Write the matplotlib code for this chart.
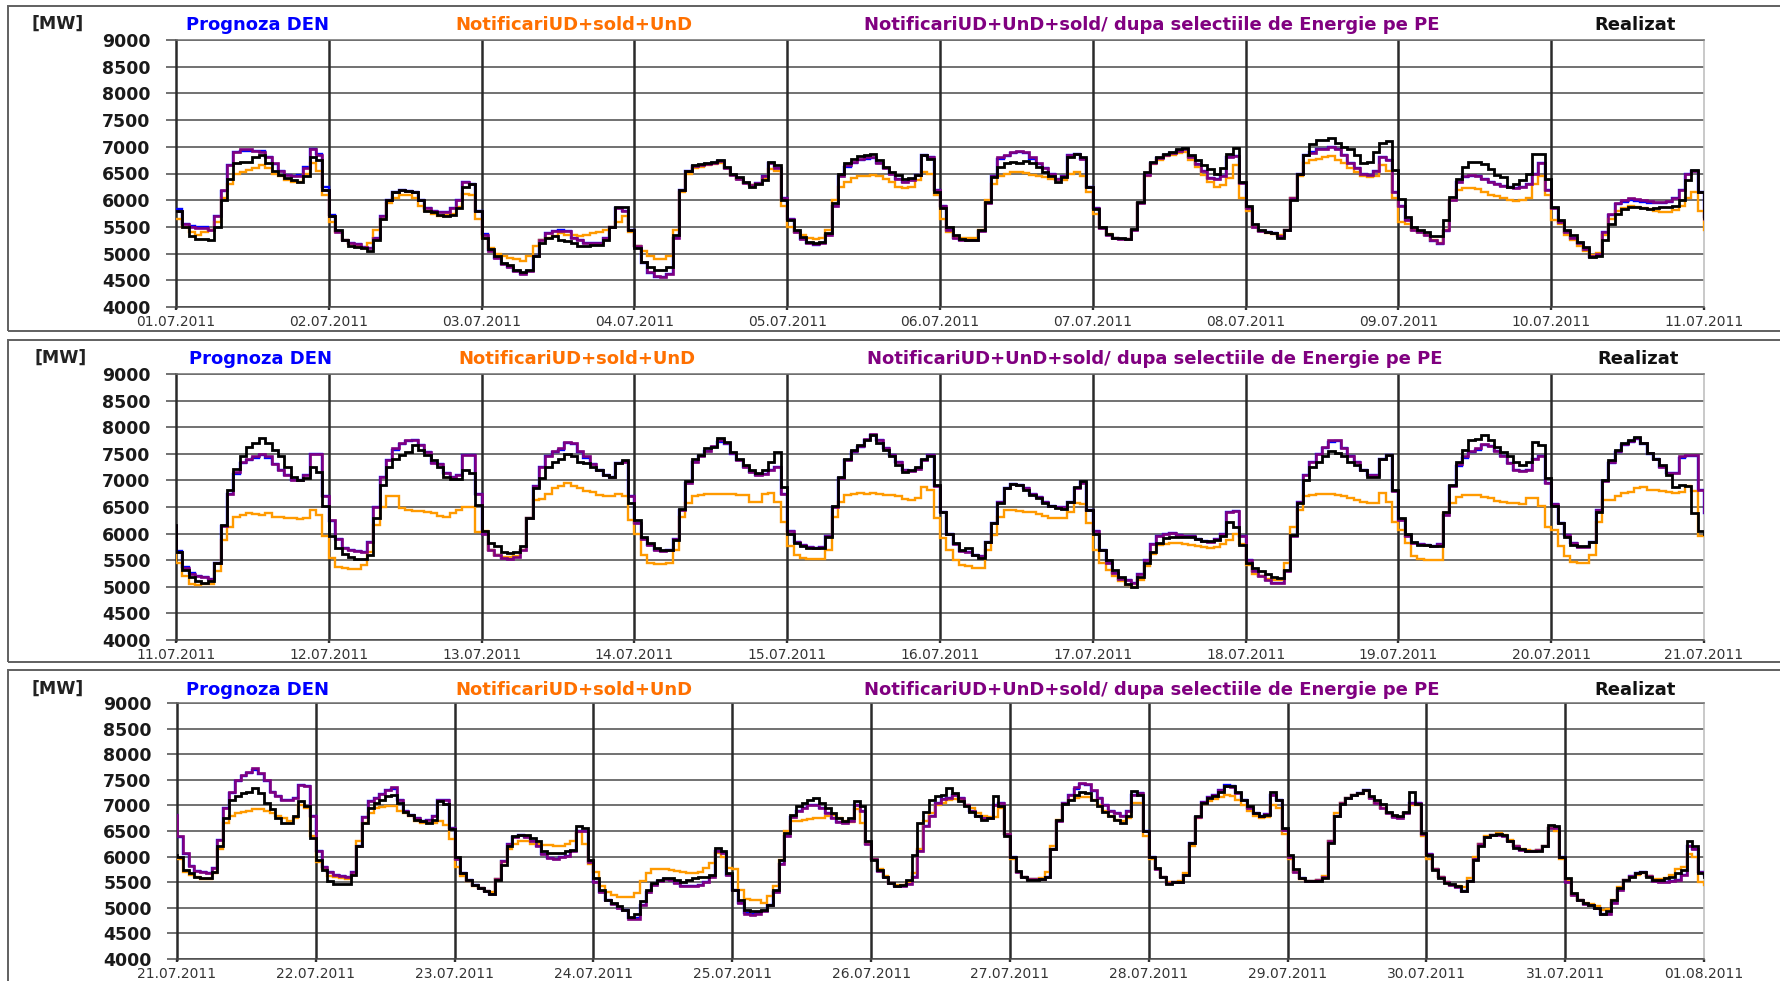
import matplotlib
matplotlib.use('Agg')
import matplotlib.pyplot as plt
from matplotlib.patches import Rectangle
import numpy as np

plt.rcParams['font.family'] = ['DejaVu Sans']

# ---------------- data (hourly values, MW) ----------------
dates_p1 = ['01.07.2011', '02.07.2011', '03.07.2011', '04.07.2011', '05.07.2011', '06.07.2011',
            '07.07.2011', '08.07.2011', '09.07.2011', '10.07.2011', '11.07.2011']
dates_p2 = ['11.07.2011', '12.07.2011', '13.07.2011', '14.07.2011', '15.07.2011', '16.07.2011',
            '17.07.2011', '18.07.2011', '19.07.2011', '20.07.2011', '21.07.2011']
dates_p3 = ['21.07.2011', '22.07.2011', '23.07.2011', '24.07.2011', '25.07.2011', '26.07.2011',
            '27.07.2011', '28.07.2011', '29.07.2011', '30.07.2011', '31.07.2011', '01.08.2011']

legend_labels = ['Prognoza DEN', 'NotificariUD+sold+UnD',
                 'NotificariUD+UnD+sold/ dupa selectiile de Energie pe PE', 'Realizat']

# Realizat (black)
realizat_p1 = [
    [5800,5500,5330,5280,5280,5260,5500,6000,6400,6700,6720,6720,6800,6850,6700,6550,6480,6420,6380,6350,6450,6800,6750,6200],
    [5700,5450,5250,5150,5130,5100,5050,5250,5650,6000,6150,6200,6180,6150,6000,5800,5780,5720,5700,5720,5850,6250,6300,5800],
    [5300,5080,4950,4820,4780,4700,4650,4700,4950,5200,5300,5330,5250,5230,5200,5150,5150,5170,5170,5250,5500,5870,5870,5450],
    [5100,4850,4750,4700,4700,4750,5350,6200,6550,6650,6680,6700,6720,6750,6620,6500,6430,6350,6250,6300,6380,6720,6650,6000],
    [5620,5440,5310,5220,5190,5220,5380,5940,6500,6690,6780,6830,6840,6860,6750,6620,6530,6470,6400,6420,6480,6840,6780,6160],
    [5860,5500,5340,5280,5250,5250,5440,5970,6440,6620,6690,6720,6690,6730,6690,6630,6530,6450,6350,6430,6810,6870,6800,6250],
    [5830,5500,5370,5300,5290,5280,5470,5970,6530,6720,6810,6870,6900,6950,6970,6850,6750,6650,6580,6500,6600,6870,6970,6350],
    [5900,5560,5440,5400,5380,5300,5440,6000,6500,6850,7050,7120,7130,7170,7080,7000,6950,6850,6700,6720,6900,7080,7100,6560],
    [6030,5690,5500,5440,5400,5330,5330,5620,6060,6400,6620,6720,6720,6680,6580,6480,6440,6250,6310,6375,6500,6860,6860,6400],
    [5880,5620,5440,5340,5220,5120,4940,4950,5250,5560,5750,5840,5870,5880,5850,5840,5850,5870,5880,5900,6000,6380,6560,6160],
]
realizat_p2 = [
    [5660,5320,5190,5100,5080,5100,5440,6160,6820,7210,7450,7630,7700,7790,7700,7570,7450,7260,7070,7010,7050,7260,7160,6510],
    [5950,5720,5620,5560,5530,5520,5600,6290,6910,7260,7410,7480,7540,7670,7570,7480,7380,7260,7070,7020,7020,7200,7130,6540],
    [6040,5820,5760,5650,5630,5660,5760,6290,6850,7040,7260,7350,7410,7500,7450,7350,7320,7250,7200,7100,7070,7320,7380,6570],
    [6250,5940,5820,5720,5700,5690,5880,6470,6980,7410,7480,7600,7630,7790,7730,7540,7410,7290,7200,7130,7200,7350,7540,6880],
    [6000,5820,5760,5730,5720,5730,5940,6510,7070,7410,7570,7670,7760,7850,7700,7570,7450,7290,7160,7200,7260,7410,7460,6910],
    [6410,6000,5820,5690,5720,5600,5540,5850,6190,6570,6850,6930,6910,6820,6730,6660,6570,6510,6480,6470,6600,6880,6980,6440],
    [6000,5690,5500,5320,5190,5060,5000,5190,5440,5660,5820,5910,5940,5940,5930,5940,5900,5860,5860,5880,5950,6220,6130,5790],
    [5440,5350,5290,5250,5190,5160,5320,5970,6570,7010,7260,7350,7450,7560,7510,7450,7350,7290,7200,7070,7070,7410,7480,6820],
    [6290,6000,5850,5790,5790,5770,5770,6410,6910,7350,7570,7760,7780,7850,7760,7630,7540,7450,7350,7290,7350,7730,7670,7040],
    [6510,6190,5940,5790,5760,5760,5850,6410,7010,7380,7570,7700,7760,7820,7700,7510,7410,7290,7100,6880,6910,6900,6380,6040],
]
realizat_p3 = [
    [6000,5740,5680,5610,5580,5580,5700,6200,6750,7110,7180,7240,7270,7340,7240,7050,6920,6750,6650,6650,6790,7080,6980,6360],
    [5940,5740,5520,5470,5470,5470,5650,6200,6650,6950,7050,7110,7180,7210,7050,6880,6820,6720,6690,6650,6720,7080,7020,6530],
    [6000,5680,5550,5450,5390,5320,5270,5550,5840,6200,6400,6430,6430,6360,6300,6100,6070,6070,6070,6100,6130,6590,6560,5940],
    [5580,5350,5160,5100,5030,4960,4830,4870,5130,5350,5480,5550,5580,5580,5550,5500,5550,5580,5600,5600,5650,6170,6100,5680],
    [5350,5160,4960,4930,4930,4960,5060,5350,5940,6460,6820,6980,7050,7110,7150,7050,6950,6850,6750,6690,6750,7080,6980,6300],
    [5940,5740,5610,5480,5420,5450,5550,6040,6650,6880,7110,7180,7210,7340,7240,7080,6980,6880,6790,6720,6750,7180,6980,6400],
    [6000,5710,5610,5550,5550,5560,5600,6140,6720,7020,7110,7210,7270,7250,7110,6980,6880,6790,6720,6650,6800,7280,7200,6500],
    [6000,5780,5610,5470,5500,5500,5650,6260,6790,7050,7150,7180,7270,7370,7380,7270,7110,6980,6850,6790,6820,7270,7110,6560],
    [6040,5750,5580,5520,5520,5530,5580,6260,6790,7020,7150,7210,7240,7310,7180,7110,7020,6880,6820,6790,6880,7270,7020,6460],
    [6040,5740,5580,5490,5470,5420,5320,5520,5940,6200,6390,6430,6450,6430,6300,6170,6140,6100,6100,6100,6200,6620,6590,6000],
    [5580,5290,5160,5090,5060,5000,4870,4930,5160,5390,5550,5610,5680,5690,5610,5550,5550,5580,5610,5680,5740,6300,6200,5680],
]

# Prognoza DEN (blue)
prognoza_p1 = [
    [5830,5560,5520,5500,5490,5450,5700,6180,6650,6900,6930,6920,6920,6920,6800,6680,6550,6480,6460,6480,6620,6950,6870,6250],
    [5720,5420,5260,5200,5180,5120,5100,5300,5700,6000,6150,6200,6180,6150,6000,5850,5800,5780,5780,5850,6000,6350,6300,5800],
    [5370,5060,4920,4800,4750,4670,4610,4680,4950,5250,5380,5420,5440,5420,5300,5250,5200,5200,5200,5300,5500,5850,5800,5450],
    [5150,4830,4640,4570,4560,4610,5300,6200,6550,6640,6660,6680,6700,6730,6600,6480,6400,6320,6280,6330,6450,6700,6600,6050],
    [5650,5400,5270,5190,5170,5190,5350,5900,6450,6630,6700,6760,6780,6790,6700,6600,6500,6400,6350,6380,6480,6850,6800,6200],
    [5900,5450,5300,5260,5250,5260,5430,5950,6450,6780,6830,6880,6900,6880,6780,6680,6600,6500,6400,6450,6850,6870,6780,6250],
    [5850,5480,5350,5290,5280,5270,5440,5950,6480,6700,6790,6850,6880,6920,6950,6800,6680,6550,6420,6400,6450,6800,6820,6330],
    [5850,5500,5420,5400,5380,5330,5450,6050,6500,6850,6900,6960,6960,7000,6950,6850,6700,6600,6500,6480,6550,6800,6750,6150],
    [5900,5620,5450,5400,5350,5240,5180,5430,6000,6350,6440,6460,6450,6400,6350,6300,6260,6250,6220,6250,6300,6500,6700,6200],
    [5850,5600,5400,5300,5200,5070,4940,5000,5400,5730,5920,5960,6000,5980,5960,5950,5940,5940,5960,6040,6200,6500,6550,6150],
]
prognoza_p2 = [
    [5680,5370,5260,5200,5180,5150,5450,6150,6750,7120,7320,7380,7430,7480,7430,7300,7200,7100,7000,7000,7100,7500,7500,6700],
    [6230,5900,5720,5700,5680,5660,5850,6500,7070,7380,7580,7680,7740,7760,7670,7540,7320,7300,7130,7070,7100,7470,7470,6750],
    [6000,5700,5600,5550,5530,5560,5700,6300,6900,7250,7450,7530,7580,7700,7680,7540,7430,7300,7200,7100,7070,7320,7350,6700],
    [6200,5900,5780,5700,5680,5700,5900,6450,6950,7350,7450,7550,7630,7730,7680,7500,7380,7250,7150,7100,7120,7200,7250,6750],
    [6050,5840,5780,5740,5730,5740,5950,6500,7050,7380,7530,7630,7760,7860,7750,7600,7480,7350,7200,7180,7220,7380,7470,6900],
    [6400,6000,5800,5680,5650,5600,5580,5850,6200,6600,6850,6930,6920,6850,6750,6680,6600,6520,6500,6500,6600,6850,6970,6450],
    [6050,5700,5450,5260,5150,5120,5080,5250,5500,5800,5950,6000,6020,5980,5950,5950,5900,5860,5850,5900,6000,6400,6430,5950],
    [5500,5300,5200,5120,5080,5080,5300,5950,6600,7100,7350,7500,7600,7730,7740,7600,7450,7350,7200,7100,7100,7400,7480,6800],
    [6250,5950,5830,5800,5780,5770,5800,6350,6900,7280,7430,7530,7580,7660,7640,7560,7450,7320,7200,7170,7200,7400,7450,6950],
    [6550,6200,5980,5820,5750,5750,5850,6450,6980,7330,7530,7660,7720,7780,7690,7500,7400,7250,7130,7130,7430,7450,7450,6820],
]
prognoza_p3 = [
    [6380,6050,5810,5720,5700,5680,5780,6330,6950,7250,7480,7580,7640,7700,7620,7480,7270,7180,7110,7110,7150,7400,7380,6790],
    [6100,5800,5700,5650,5620,5600,5700,6200,6780,7080,7150,7220,7300,7330,7100,6900,6820,6750,6700,6720,6800,7100,7100,6550],
    [5950,5680,5550,5450,5380,5320,5270,5560,5920,6250,6380,6420,6380,6300,6200,6050,5980,5950,6000,6020,6100,6500,6500,5900],
    [5500,5300,5150,5080,5000,4950,4800,4800,5050,5300,5450,5530,5560,5540,5480,5420,5420,5430,5450,5500,5600,6100,6080,5650],
    [5350,5100,4900,4870,4890,4930,5050,5300,5850,6400,6780,6900,6950,7000,7000,6950,6850,6750,6680,6650,6700,7000,6900,6250],
    [5950,5720,5600,5480,5420,5420,5460,5600,6100,6600,6800,7050,7120,7150,7200,7150,7000,6900,6800,6750,6750,7000,7050,6450],
    [6000,5700,5600,5560,5560,5560,5600,6150,6700,7050,7200,7330,7420,7400,7280,7150,7000,6900,6850,6800,6900,7200,7250,6500],
    [6000,5750,5600,5480,5500,5500,5650,6260,6780,7070,7160,7200,7300,7400,7380,7250,7100,6950,6850,6800,6830,7200,7100,6520],
    [6000,5700,5580,5520,5520,5540,5600,6300,6800,7050,7150,7200,7250,7300,7150,7050,6950,6850,6780,6750,6850,7050,7050,6450],
    [6050,5750,5600,5500,5450,5400,5320,5520,5950,6250,6380,6420,6430,6400,6300,6200,6130,6100,6100,6120,6200,6550,6550,5990],
    [5500,5250,5150,5080,5050,5000,4880,4880,5100,5350,5550,5620,5680,5690,5620,5530,5500,5500,5520,5550,5650,6200,6150,5700],
]

# NotificariUD+sold+UnD (orange)
notificari_p1 = [
    [5650,5500,5400,5350,5400,5450,5600,6050,6300,6500,6530,6560,6600,6650,6600,6500,6450,6380,6350,6350,6500,6700,6550,6100],
    [5600,5400,5250,5180,5150,5100,5200,5450,5650,5950,6050,6100,6100,6050,5900,5800,5750,5700,5720,5750,5880,6120,6100,5650],
    [5300,5100,5000,4950,4920,4900,4870,4950,5150,5250,5300,5330,5380,5350,5350,5330,5350,5380,5400,5450,5500,5600,5700,5400],
    [5150,5050,4950,4900,4900,4950,5450,6150,6500,6600,6630,6650,6680,6700,6600,6480,6400,6320,6280,6300,6400,6580,6550,5900],
    [5500,5400,5350,5300,5280,5300,5450,6000,6250,6350,6420,6450,6460,6480,6450,6400,6350,6250,6220,6250,6380,6530,6500,6100],
    [5650,5400,5320,5300,5290,5300,5450,6000,6300,6450,6500,6520,6520,6510,6480,6460,6430,6400,6370,6380,6500,6530,6450,6150],
    [5750,5480,5360,5300,5280,5270,5450,5950,6450,6680,6760,6820,6850,6880,6900,6750,6620,6480,6350,6250,6280,6420,6650,6050],
    [5800,5500,5420,5390,5370,5340,5450,6050,6450,6700,6750,6780,6800,6820,6750,6700,6600,6520,6450,6430,6450,6650,6550,6050],
    [5600,5560,5450,5400,5350,5250,5200,5450,6000,6200,6230,6230,6210,6150,6100,6080,6050,6000,5980,6000,6050,6300,6450,6100],
    [5620,5550,5350,5250,5150,5050,4970,5020,5350,5650,5800,5850,5900,5880,5850,5830,5800,5780,5780,5820,5900,6050,6150,5800],
]
notificari_p2 = [
    [5450,5200,5060,5040,5050,5060,5300,5880,6130,6320,6350,6380,6360,6350,6380,6320,6310,6300,6290,6280,6300,6440,6350,5950],
    [5540,5380,5350,5340,5330,5410,5660,6160,6500,6700,6710,6480,6450,6430,6420,6400,6380,6330,6320,6380,6450,6500,6500,6030],
    [6050,5700,5600,5560,5560,5580,5700,6300,6630,6650,6750,6850,6900,6960,6900,6850,6800,6780,6720,6700,6700,6750,6700,6250],
    [6000,5600,5450,5420,5420,5440,5690,6320,6570,6700,6720,6740,6740,6750,6740,6740,6730,6730,6600,6600,6750,6760,6600,6220],
    [5760,5600,5540,5520,5520,5520,5690,6320,6600,6720,6750,6760,6750,6760,6740,6730,6720,6700,6650,6630,6660,6880,6820,6290],
    [5910,5690,5500,5410,5400,5360,5350,5690,5970,6320,6440,6440,6430,6410,6400,6360,6330,6300,6290,6290,6410,6570,6550,6190],
    [5700,5450,5320,5200,5100,5040,5000,5130,5400,5620,5780,5800,5830,5830,5800,5780,5760,5740,5720,5740,5800,5880,6000,5800],
    [5410,5250,5200,5150,5120,5120,5440,6130,6440,6700,6720,6740,6740,6740,6720,6700,6660,6630,6600,6570,6570,6760,6600,6220],
    [6070,5820,5570,5520,5500,5500,5500,6380,6570,6680,6720,6720,6720,6680,6660,6620,6600,6580,6570,6560,6660,6660,6510,6130],
    [6070,5760,5570,5470,5450,5440,5600,6220,6630,6630,6700,6760,6780,6850,6880,6820,6820,6800,6780,6760,6780,6900,6800,5950],
]
notificari_p3 = [
    [5950,5700,5640,5600,5570,5570,5680,6150,6650,6800,6850,6870,6900,6930,6920,6900,6850,6800,6750,6700,6750,7000,6950,6400],
    [5900,5750,5620,5600,5580,5560,5650,6300,6650,6850,6950,6970,6980,6980,6900,6850,6800,6700,6650,6650,6650,6700,6620,6350],
    [5800,5620,5520,5420,5380,5330,5300,5560,5900,6150,6250,6300,6300,6250,6250,6230,6220,6200,6200,6250,6300,6480,6250,5850],
    [5700,5420,5300,5250,5210,5210,5210,5290,5520,5680,5750,5760,5760,5740,5720,5690,5680,5680,5700,5780,5880,6070,6000,5780],
    [5750,5350,5180,5160,5150,5100,5230,5420,5940,6500,6690,6700,6720,6730,6750,6750,6800,6820,6750,6700,6680,6920,6650,6260],
    [5950,5750,5620,5480,5440,5440,5500,5680,6150,6700,6850,7000,7050,7100,7120,7100,7000,6950,6850,6800,6780,6780,6950,6450],
    [5950,5700,5600,5560,5560,5580,5700,6200,6720,7020,7100,7150,7160,7160,7100,7000,6900,6800,6720,6700,6750,7050,7050,6400],
    [5950,5750,5600,5500,5500,5520,5680,6200,6750,7020,7080,7120,7170,7200,7180,7100,7000,6900,6800,6750,6780,7000,6950,6450],
    [5950,5700,5560,5520,5520,5550,5620,6300,6850,7050,7150,7200,7230,7280,7150,7050,6950,6850,6800,6780,6850,7000,7000,6400],
    [5950,5750,5600,5500,5450,5420,5400,5580,6000,6250,6400,6430,6460,6430,6320,6200,6150,6120,6110,6120,6200,6550,6500,5950],
    [5550,5250,5150,5100,5080,5030,4950,4970,5150,5400,5550,5600,5650,5680,5620,5560,5560,5580,5650,5750,5800,6050,6000,5500],
]

# NotificariUD+UnD+sold/ dupa selectiile de Energie pe PE (purple)
notif_pe_p1 = [
    [5800,5550,5500,5480,5480,5450,5700,6200,6650,6900,6950,6950,6920,6900,6800,6700,6550,6480,6450,6450,6600,6950,6850,6200],
    [5700,5400,5250,5200,5180,5120,5100,5300,5700,6000,6150,6200,6180,6150,6000,5850,5800,5780,5780,5850,6000,6350,6300,5800],
    [5350,5050,4920,4800,4750,4680,4620,4680,4950,5250,5380,5420,5430,5420,5300,5250,5200,5200,5200,5300,5500,5850,5800,5450],
    [5150,4850,4650,4580,4570,4620,5300,6200,6550,6640,6660,6680,6700,6730,6600,6480,6400,6320,6280,6330,6450,6700,6600,6050],
    [5650,5400,5280,5200,5180,5200,5350,5900,6450,6650,6720,6780,6800,6800,6700,6600,6500,6400,6350,6380,6480,6850,6800,6200],
    [5900,5450,5300,5260,5250,5260,5430,5950,6450,6800,6850,6900,6920,6900,6800,6700,6600,6500,6400,6450,6850,6870,6780,6250],
    [5850,5480,5350,5290,5280,5270,5440,5950,6480,6700,6790,6850,6880,6920,6950,6800,6680,6550,6420,6400,6450,6800,6820,6330],
    [5850,5500,5420,5400,5380,5330,5450,6050,6500,6850,6880,6950,6950,7000,6950,6850,6700,6600,6500,6470,6550,6800,6750,6150],
    [5900,5620,5450,5400,5350,5250,5200,5450,6000,6350,6450,6470,6460,6400,6350,6300,6260,6250,6220,6250,6300,6500,6700,6200],
    [5850,5600,5400,5300,5200,5080,4950,5000,5400,5750,5950,6000,6050,6020,6000,5980,5970,5960,5980,6050,6200,6500,6550,6150],
]
notif_pe_p2 = [
    [5650,5350,5250,5200,5180,5150,5450,6150,6750,7150,7350,7400,7450,7500,7450,7300,7200,7100,7000,7000,7100,7500,7500,6700],
    [6250,5900,5720,5700,5680,5660,5850,6500,7070,7380,7600,7700,7760,7760,7670,7540,7320,7300,7130,7070,7100,7470,7470,6750],
    [6000,5700,5600,5550,5530,5560,5700,6300,6900,7250,7450,7550,7600,7720,7700,7560,7450,7300,7200,7100,7070,7320,7350,6700],
    [6200,5900,5780,5700,5680,5700,5900,6450,6950,7350,7450,7550,7650,7750,7700,7520,7380,7250,7150,7100,7120,7200,7250,6750],
    [6050,5840,5780,5740,5730,5740,5950,6500,7050,7380,7550,7650,7780,7880,7750,7600,7480,7350,7200,7180,7220,7380,7470,6900],
    [6400,6000,5800,5680,5650,5600,5580,5850,6200,6600,6850,6930,6920,6850,6750,6680,6600,6520,6500,6500,6600,6850,6950,6450],
    [6050,5700,5450,5260,5150,5120,5080,5250,5500,5800,5950,6000,6020,5980,5950,5950,5900,5860,5850,5900,6000,6400,6430,5950],
    [5500,5300,5200,5120,5080,5080,5300,5950,6600,7100,7350,7500,7620,7750,7760,7600,7450,7350,7200,7100,7100,7400,7480,6800],
    [6250,5950,5830,5800,5780,5770,5800,6350,6900,7300,7450,7550,7600,7680,7650,7560,7450,7320,7200,7170,7200,7400,7450,6950],
    [6550,6200,5980,5820,5750,5750,5850,6450,6980,7350,7550,7680,7740,7800,7700,7520,7400,7250,7130,7130,7450,7470,7470,6820],
]
notif_pe_p3 = [
    [6400,6070,5810,5710,5700,5680,5780,6330,6950,7270,7500,7600,7660,7730,7630,7500,7270,7180,7110,7110,7150,7400,7380,6790],
    [6100,5800,5700,5650,5620,5600,5700,6200,6780,7080,7150,7220,7300,7350,7100,6900,6820,6750,6700,6720,6800,7100,7100,6550],
    [5950,5680,5550,5450,5380,5320,5270,5560,5920,6250,6380,6420,6380,6300,6200,6050,5980,5950,6000,6020,6100,6500,6500,5900],
    [5500,5300,5150,5080,5000,4950,4780,4780,5050,5300,5450,5530,5560,5540,5480,5420,5420,5430,5450,5500,5600,6100,6080,5650],
    [5350,5100,4880,4850,4880,4930,5050,5300,5850,6400,6780,6900,6950,7000,7000,6950,6850,6750,6680,6650,6700,7000,6900,6250],
    [5950,5720,5600,5480,5420,5420,5460,5600,6100,6600,6800,7050,7120,7150,7200,7150,7000,6900,6800,6750,6750,7000,7050,6450],
    [6000,5700,5600,5560,5560,5560,5600,6150,6700,7050,7200,7350,7440,7420,7300,7150,7000,6900,6850,6800,6900,7200,7250,6500],
    [6000,5750,5600,5480,5500,5500,5650,6260,6780,7070,7160,7200,7300,7380,7360,7250,7100,6950,6850,6800,6830,7200,7100,6520],
    [6000,5700,5580,5520,5520,5540,5600,6300,6800,7050,7150,7200,7250,7300,7150,7050,6950,6850,6780,6750,6850,7050,7050,6450],
    [6050,5750,5600,5500,5450,5400,5320,5520,5950,6250,6380,6420,6430,6400,6300,6200,6130,6100,6100,6120,6200,6550,6550,5990],
    [5500,5250,5150,5080,5050,5000,4880,4880,5100,5350,5550,5620,5680,5690,5620,5530,5500,5500,5520,5550,5650,6200,6150,5700],
]

# value before 01.07 00:00 and after 01.08 00:00 (prognoza, notificari, notif_pe, realizat)
before_p1 = [5830, 5650, 5800, 5800]
after_p3 = [5650, 5450, 5650, 5600]

# ---------------- styling ----------------
W, H = 1781, 981
fig = plt.figure(figsize=(W / 100, H / 100), dpi=100)
fig.patch.set_facecolor('white')

series_colors = ['#0000FF', '#FF9A00', '#800080', '#000000']
series_lw = [1.7, 1.7, 1.9, 2.0]
series_z = [3, 3.2, 3.4, 4]
text_colors = ['#0000FF', '#FF7000', '#800080', '#111111']

# (left, right, top, bottom) pixel box of each plot area, frame (top, bottom), legend centre y
panel_geom = [
    dict(box=(176, 1704, 40, 307), frame=(6, 331), ly=24, dx=0),
    dict(box=(176, 1704, 374, 640), frame=(340, 662), ly=358, dx=3),
    dict(box=(177, 1704, 703, 959), frame=(670, 1000), ly=689, dx=0),
]
legend_cx = [258, 574, 1152, 1635]

panel_data = [
    (dates_p1, [prognoza_p1, notificari_p1, notif_pe_p1, realizat_p1]),
    (dates_p2, [prognoza_p2, notificari_p2, notif_pe_p2, realizat_p2]),
    (dates_p3, [prognoza_p3, notificari_p3, notif_pe_p3, realizat_p3]),
]


def flat(days):
    return [v for d in days for v in d]


for pi, (geom, (dates, series)) in enumerate(zip(panel_geom, panel_data)):
    l, r, t, b = geom['box']
    ft, fb = geom['frame']
    # panel frame
    fig.patches.append(Rectangle((8 / W, 1 - fb / H), (W + 20) / W, (fb - ft) / H,
                                 transform=fig.transFigure, fill=False,
                                 edgecolor='#606060', lw=1.4, clip_on=False))
    ax = fig.add_axes([l / W, 1 - b / H, (r - l) / W, (b - t) / H])
    ndays = len(dates) - 1
    n = ndays * 24

    for si, s in enumerate(series):
        vals = flat(s)
        if pi == 0:
            prev = before_p1[si]
        else:
            prev = flat(panel_data[pi - 1][1][si])[-1]
        if pi < 2:
            nxt = flat(panel_data[pi + 1][1][si])[0]
        else:
            nxt = after_p3[si]
        y = [prev] + vals + [nxt]
        x = np.array([0] + list(range(n + 1))) / 24.0
        ax.plot(x, y, drawstyle='steps-post', color=series_colors[si],
                lw=series_lw[si], zorder=series_z[si], solid_joinstyle='miter')

    ax.set_xlim(0, ndays)
    ax.set_ylim(4000, 9000)
    ax.set_axisbelow(True)
    yt = list(range(4000, 9001, 500))
    ax.set_yticks(yt)
    ax.set_yticklabels([str(v) for v in yt], fontsize=12.5, fontweight='bold', color='#1a1a1a')
    ax.grid(axis='y', color='#4a4a4a', lw=1.1, zorder=1)
    ax.tick_params(axis='y', length=7.2, width=1.1, color='#4a4a4a', pad=11)
    ax.set_xticks(range(ndays + 1))
    ax.set_xticklabels(dates, fontsize=10, color='#333333')
    ax.tick_params(axis='x', length=2.5, width=1.7, color='#303030', pad=3.2)
    for d in range(1, ndays):
        ax.axvline(d, color='#2a2a2a', lw=1.8, zorder=1.5)
    ax.spines['left'].set_color('#2a2a2a')
    ax.spines['left'].set_linewidth(1.8)
    ax.spines['bottom'].set_color('#4a4a4a')
    ax.spines['bottom'].set_linewidth(1.1)
    ax.spines['top'].set_color('#707070')
    ax.spines['top'].set_linewidth(1.1)
    ax.spines['right'].set_color('#c0c0c0')
    ax.spines['right'].set_linewidth(1.2)
    ax.set_facecolor('white')

    # unit and legend texts
    ly = geom['ly']
    fig.text((58 + geom['dx']) / W, 1 - (ly + 5) / H, '[MW]', ha='center', va='baseline',
             fontsize=12.5, fontweight='bold', color='#222222')
    for k, lab in enumerate(legend_labels):
        fig.text((legend_cx[k] + geom['dx']) / W, 1 - (ly + 6) / H, lab, ha='center',
                 va='baseline', fontsize=13, fontweight='bold', color=text_colors[k])

fig.savefig('out.png', dpi=100, facecolor='white')
